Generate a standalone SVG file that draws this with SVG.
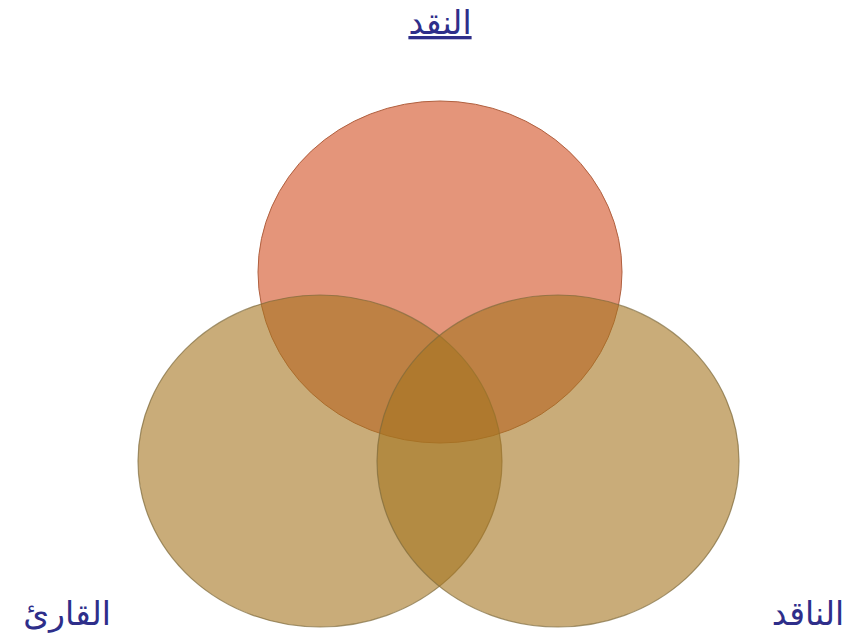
<svg xmlns="http://www.w3.org/2000/svg" width="852" height="640" viewBox="0 0 852 640">
<style>
.lbl{font-family:"DejaVu Sans",sans-serif;font-size:33px;fill:#2E2E8A;text-anchor:middle;direction:rtl}
.red{fill:#D24E21;fill-opacity:0.6;stroke:#B0603F;stroke-width:1}
.tan{fill:#A57420;fill-opacity:0.6;stroke:#7E6A3A;stroke-opacity:0.7;stroke-width:1.2}
</style>
<rect width="852" height="640" fill="#FFFFFF"/>
<g id="node-naqd"><ellipse class="red" cx="440" cy="272" rx="182" ry="171"/></g>
<g id="node-qari"><ellipse class="tan" cx="320" cy="461" rx="182" ry="166"/></g>
<g id="node-naqid"><ellipse class="tan" cx="558" cy="461" rx="181" ry="166"/></g>
<g id="labels">
<text class="lbl" x="440" y="34" text-decoration="underline">النقد</text>
<text class="lbl" x="67" y="625">القارئ</text>
<text class="lbl" x="808" y="625">الناقد</text>
</g>
<g id="connectors"></g>
</svg>
